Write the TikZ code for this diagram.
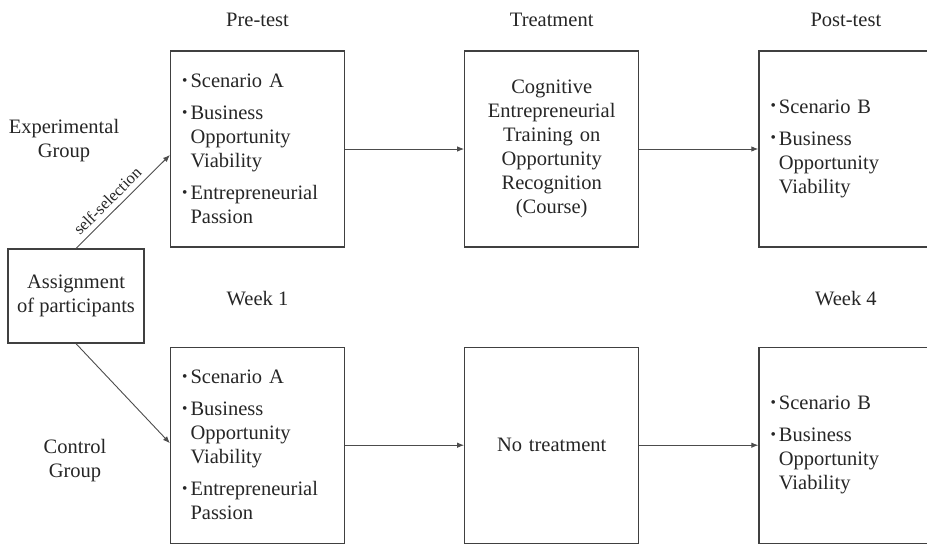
\documentclass[tikz,border=0pt]{standalone}
\usepackage{fontspec}
\setmainfont{Liberation Serif}
\usepackage{graphicx}
\usetikzlibrary{arrows.meta,positioning}

% hanging bullet for the list boxes
\newcommand{\bul}{\leavevmode\llap{\raisebox{.28ex}{\scalebox{.75}{\textbullet}}\hspace{3pt}}}

\begin{document}
\begin{tikzpicture}[
    x=1pt, y=-1pt,
    node distance=119pt,
    every node/.style={font=\fontsize{20.5}{24}\selectfont, text=black!85},
    box/.style={rectangle, draw=black!75, line width=1.2pt, text width=134pt,
        inner xsep=20pt, inner ysep=0pt, minimum height=196pt, align=left},
    midbox/.style={box, align=center},
    small/.style={font=\fontsize{16.5}{19}\selectfont},
    arrow/.style={->, draw=black!70, line width=0.9pt},
    >={Latex[length=7pt,width=5.5pt]}
]
    \useasboundingbox (0,0) rectangle (927,544);

    % boxes of the experimental group
    \node[box] (pre1) at (257.5,149)
        {\bul Scenario A\\[8pt]
         \bul Business\\Opportunity\\Viability\\[8pt]
         \bul Entrepreneurial\\Passion};
    \node[midbox, right=of pre1] (treat1)
        {Cognitive\\Entrepreneurial\\Training on\\Opportunity\\Recognition\\(Course)};
    \node[box, right=of treat1] (post1)
        {\bul Scenario B\\[8pt]
         \bul Business\\Opportunity\\Viability};

    % boxes of the control group
    \node[box, below=99pt of pre1] (pre2)
        {\bul Scenario A\\[8pt]
         \bul Business\\Opportunity\\Viability\\[8pt]
         \bul Entrepreneurial\\Passion};
    \node[midbox, right=of pre2] (treat2) {No treatment};
    \node[box, right=of treat2] (post2)
        {\bul Scenario B\\[8pt]
         \bul Business\\Opportunity\\Viability};

    % headings
    \node[above=20pt of pre1] (pretest) {Pre-test};
    \node[above=20pt of treat1] (treatment) {Treatment};
    \node[above=20pt of post1] (posttest) {Post-test};
    \node[below=40pt of pre1] (week1) {Week 1};
    \node[below=40pt of post1] (week4) {Week 4};

    % groups
    \node[draw=black!75, line width=1.2pt, minimum width=136pt, minimum height=94pt,
        align=center, inner sep=0pt] (assign) at (76,296)
        {Assignment\\of participants};
    \node[align=center] (expgroup) at (64,141) {Experimental\\Group};
    \node[align=center] (ctrlgroup) at (75,461) {Control\\Group};

    \draw[arrow] (assign.north) -- node[small, pos=0.42, sloped, above=2pt] {self-selection} ([yshift=-6pt]pre1.west);
    \draw[arrow] (assign.south) -- ([yshift=2pt]pre2.west);
    \draw[arrow] (pre1) -- (treat1);
    \draw[arrow] (treat1) -- (post1);
    \draw[arrow] (pre2) -- (treat2);
    \draw[arrow] (treat2) -- (post2);
\end{tikzpicture}
\end{document}
